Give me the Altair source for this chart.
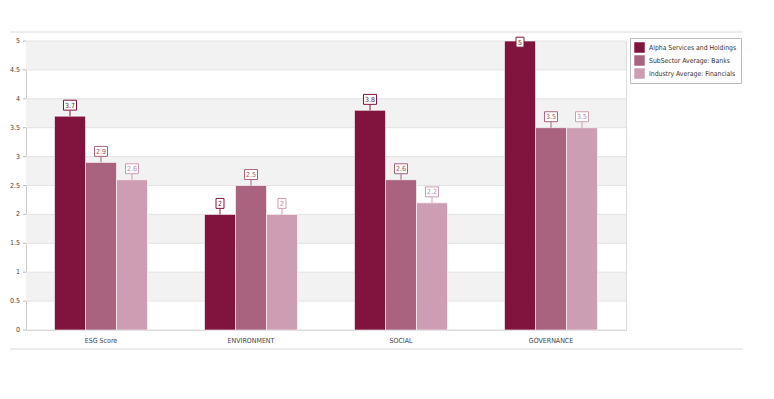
import altair as alt
import pandas as pd

categories = ["ESG Score", "ENVIRONMENT", "SOCIAL", "GOVERNANCE"]
series = ["Alpha Services and Holdings", "SubSector Average: Banks", "Industry Average: Financials"]
alpha = [3.7, 2, 3.8, 5]
subsector = [2.9, 2.5, 2.6, 3.5]
industry = [2.6, 2, 2.2, 3.5]
colors = ["#80143f", "#a9637f", "#cd9eb3"]
band_starts = [0.5, 1.5, 2.5, 3.5, 4.5]
y_ticks = [0, 0.5, 1, 1.5, 2, 2.5, 3, 3.5, 4, 4.5, 5]

rows = []
for s, vals in zip(series, [alpha, subsector, industry]):
    for c, v in zip(categories, vals):
        lab = f"{v:g}"
        rows.append({"cat": c, "series": s, "value": v, "label": lab,
                     "w": "wide" if len(lab) > 1 else "narrow"})
df = pd.DataFrame(rows)
bands = pd.DataFrame({"b0": band_starts, "b1": [b + 0.5 for b in band_starts]})
ticks_df = pd.DataFrame({"t": y_ticks, "tl": [f"{t:g}" for t in y_ticks]})

FONT = "DejaVu Sans Condensed"
W, H = 600, 289

yscale = alt.Scale(domain=[0, 5], nice=False)
yaxis = alt.Axis(title=None, labels=False, ticks=False, grid=False, domainColor="#cccccc")

xs = alt.X("cat:N", sort=categories, scale=alt.Scale(paddingInner=0.38, paddingOuter=0.19),
           axis=alt.Axis(title=None, labelAngle=0, ticks=False, domainColor="#cccccc",
                         labelFontSize=7, labelColor="#444444", labelFont=FONT, labelPadding=6))
xo = alt.XOffset("series:N", sort=series)
col = alt.Color("series:N", sort=series, scale=alt.Scale(domain=series, range=colors),
                legend=alt.Legend(title=None, orient="none", legendX=604, legendY=-3,
                                  symbolType="square", symbolSize=110, symbolStrokeWidth=0,
                                  labelFontSize=6.8, labelFont=FONT, labelColor="#333333",
                                  strokeColor="#bbbbbb", padding=4, rowPadding=2,
                                  symbolOpacity=1, labelOffset=4))
strk = alt.Stroke("series:N", sort=series, scale=alt.Scale(domain=series, range=colors), legend=None)

bg = alt.Chart(bands).mark_rect(color="#f2f2f2").encode(
    x=alt.value(0), x2=alt.value(W),
    y=alt.Y("b0:Q", scale=yscale, axis=yaxis), y2="b1:Q")

grid = alt.Chart(ticks_df).mark_rule(color="#e4e4e4", strokeWidth=1).encode(
    x=alt.value(0), x2=alt.value(W), y=alt.Y("t:Q", scale=yscale, axis=yaxis))

ytick_marks = alt.Chart(ticks_df).mark_rule(color="#bbbbbb", strokeWidth=1, clip=False).encode(
    x=alt.value(-3), x2=alt.value(0), y=alt.Y("t:Q", scale=yscale, axis=yaxis))

ytick_labels = alt.Chart(ticks_df).mark_text(
    fontSize=7, font=FONT, align="right", baseline="middle", color="#444444", clip=False
).encode(x=alt.value(-6), y=alt.Y("t:Q", scale=yscale, axis=yaxis), text="tl:N")

base = alt.Chart(df).transform_calculate(
    ly="min(datum.value + 0.19, 4.98)", lt="datum.ly - 0.09")

bars = base.mark_bar(stroke="white", strokeWidth=0.6).encode(
    x=xs, xOffset=xo, y=alt.Y("value:Q", scale=yscale, axis=yaxis), color=col)

conn = base.mark_rule(strokeWidth=1).encode(
    x=xs, xOffset=xo, y=alt.Y("value:Q", scale=yscale, axis=yaxis), y2="lt:Q", stroke=strk)

boxes = base.mark_point(filled=True, fill="white", strokeWidth=1, opacity=1, size=196).encode(
    x=xs, xOffset=xo, y=alt.Y("ly:Q", scale=yscale, axis=yaxis), stroke=strk,
    shape=alt.Shape("w:N", scale=alt.Scale(domain=["wide", "narrow"],
                    range=["M-0.93,-0.71H0.93V0.71H-0.93Z", "M-0.57,-0.71H0.57V0.71H-0.57Z"]),
                    legend=None))

texts = base.mark_text(fontSize=7, font=FONT, baseline="middle", dy=0.5).encode(
    x=xs, xOffset=xo, y=alt.Y("ly:Q", scale=yscale, axis=yaxis), text="label:N",
    color=alt.Color("series:N", sort=series,
                    scale=alt.Scale(domain=series, range=["#5a2a3e", "#8a5a6e", "#b88a9e"]),
                    legend=None))

top_line = alt.Chart(df).mark_rule(color="#ececec", strokeWidth=2, clip=False).encode(
    x=alt.value(-16), x2=alt.value(717), y=alt.value(-9))
bot_line = alt.Chart(df).mark_rule(color="#ececec", strokeWidth=2, clip=False).encode(
    x=alt.value(-16), x2=alt.value(717), y=alt.value(308))

chart = alt.layer(bg, grid, ytick_marks, ytick_labels, bars, conn, boxes, texts,
                  top_line, bot_line).resolve_scale(
    color="independent", stroke="shared"
).properties(
    width=W, height=H,
    autosize=alt.AutoSizeParams(type="none"),
    padding={"left": 18, "top": 33, "right": 130, "bottom": 55},
).configure_view(stroke="#dddddd")

chart.save("out.html", embed_options={"renderer": "svg", "actions": False})
